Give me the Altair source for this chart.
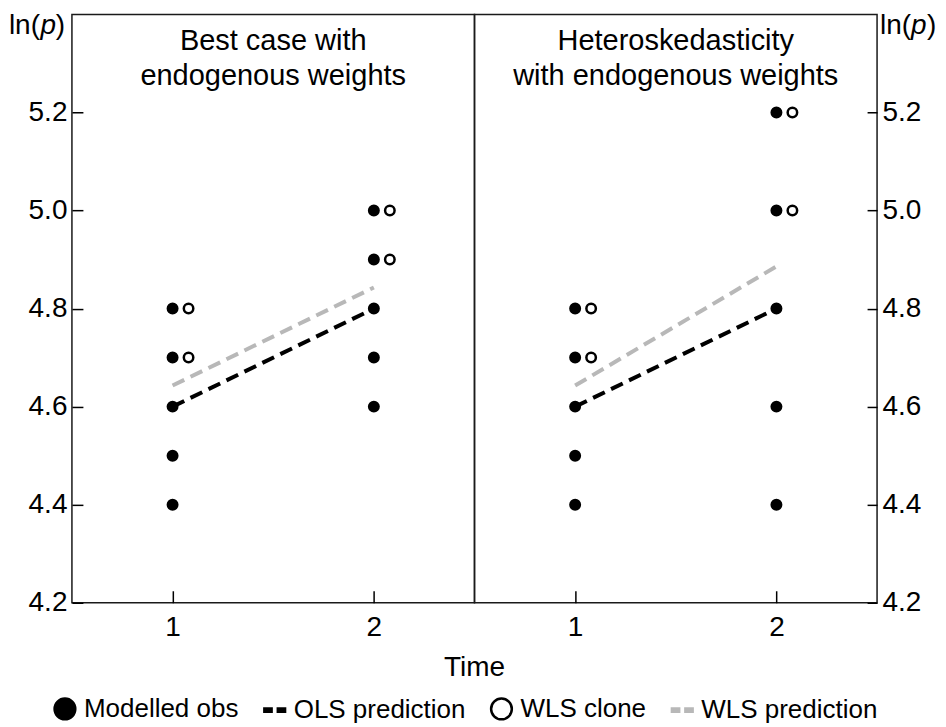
import altair as alt
import pandas as pd

FONT = "Liberation Sans"
GRAY = "#b8b8b8"

series_names = ["Modelled obs", "OLS prediction", "WLS clone", "WLS prediction"]
panel_titles = ["Best case with\nendogenous weights", "Heteroskedasticity\nwith endogenous weights"]
y_label_parts = ["ln(", "p", ")"]
x_title = ["Time"]

time_ticks = [1, 2]
y_ticks = [4.2, 4.4, 4.6, 4.8, 5.0, 5.2]

# Left panel: best case with endogenous weights
left_obs_t1 = [4.4, 4.5, 4.6, 4.7, 4.8]
left_obs_t2 = [4.6, 4.7, 4.8, 4.9, 5.0]
left_clone_t1 = [4.7, 4.8]
left_clone_t2 = [4.9, 5.0]
left_ols = [4.6, 4.8]
left_wls = [4.643, 4.843]

# Right panel: heteroskedasticity with endogenous weights
right_obs_t1 = [4.4, 4.5, 4.6, 4.7, 4.8]
right_obs_t2 = [4.4, 4.6, 4.8, 5.0, 5.2]
right_clone_t1 = [4.7, 4.8]
right_clone_t2 = [5.0, 5.2]
right_ols = [4.6, 4.8]
right_wls = [4.643, 4.886]

W = 403
H = 589

DASH = "M-1,-0.15H-0.3V0.15H-1Z M0.3,-0.15H1V0.15H0.3Z"

shape_scale = alt.Scale(domain=series_names, range=["circle", DASH, "circle", DASH])
fill_scale = alt.Scale(domain=series_names, range=["black", "black", "white", GRAY])
stroke_scale = alt.Scale(domain=series_names, range=["black", "black", "black", GRAY])

legend = alt.Legend(
    title=None, orient="none", legendX=-20, legendY=682, direction="horizontal",
    labelFont=FONT, labelFontSize=26, labelColor="black", symbolSize=430,
    symbolStrokeWidth=2.5, symbolOpacity=1, columnPadding=20, labelOffset=6,
    labelLimit=0,
)

x_scale = alt.Scale(domain=[0.5, 2.5], nice=False, zero=False)
y_scale = alt.Scale(domain=[4.2, 5.4], nice=False, zero=False)

x_axis = alt.Axis(values=time_ticks, format="d", offset=-12, tickSize=12, labelPadding=11,
                  domain=False, grid=False, title=None, labelOverlap=False)


def points_df(t1, t2, name):
    return pd.DataFrame({"time": [1] * len(t1) + [2] * len(t2), "value": t1 + t2, "series": name})


def panel(obs1, obs2, cl1, cl2, ols, wls, title, side):
    if side == "left":
        y_axis = alt.Axis(orient="left", values=y_ticks, format=".1f", offset=-11, tickSize=11,
                          labelPadding=5, domain=False, grid=False, title=None, labelOverlap=False)
    else:
        y_axis = alt.Axis(orient="right", values=y_ticks, format=".1f", offset=-10, tickSize=10,
                          labelPadding=5, domain=False, grid=False, title=None, labelOverlap=False)
    x_enc = alt.X("time:Q", scale=x_scale, axis=x_axis)
    y_enc = alt.Y("value:Q", scale=y_scale, axis=y_axis)

    ols_df = pd.DataFrame({"time": time_ticks, "value": ols})
    wls_df = pd.DataFrame({"time": time_ticks, "value": wls})

    wls_line = alt.Chart(wls_df).mark_line(stroke=GRAY, strokeWidth=4, strokeDash=[13, 7]).encode(x=x_enc, y=y_enc)
    ols_line = alt.Chart(ols_df).mark_line(stroke="black", strokeWidth=4, strokeDash=[13, 7]).encode(x=x_enc, y=y_enc)

    enc = dict(
        x=x_enc, y=y_enc,
        shape=alt.Shape("series:N", scale=shape_scale, legend=legend),
        fill=alt.Fill("series:N", scale=fill_scale, legend=legend),
        stroke=alt.Stroke("series:N", scale=stroke_scale, legend=legend),
    )
    obs = alt.Chart(points_df(obs1, obs2, "Modelled obs")).mark_point(
        size=90, strokeWidth=2.5, opacity=1).encode(**enc)
    clones = alt.Chart(points_df(cl1, cl2, "WLS clone")).mark_point(
        size=90, strokeWidth=2.5, opacity=1, xOffset=16).encode(**enc)

    ttl = alt.Chart(pd.DataFrame({"t": [title]})).mark_text(
        align="center", baseline="alphabetic", font=FONT, fontSize=29, lineBreak="\n",
        lineHeight=35, color="black").encode(text="t:N", x=alt.value(W / 2), y=alt.value(36))

    lab_df = pd.DataFrame({"t": y_label_parts})
    layers = [wls_line, ols_line, obs, clones, ttl]
    if side == "left":
        xs = [-32, -16, -7]
        aligns = ["right", "right", "right"]
    else:
        xs = [W + 3, W + 34, W + 50]
        aligns = ["left", "left", "left"]
    for i, part in enumerate(y_label_parts):
        layers.append(
            alt.Chart(lab_df).transform_filter(alt.datum.t == part).mark_text(
                align=aligns[i], baseline="alphabetic", font=FONT, fontSize=28,
                fontStyle="italic" if part == "p" else "normal", color="black"
            ).encode(text="t:N", x=alt.value(xs[i]), y=alt.value(20))
        )
    if side == "left":
        layers.append(
            alt.Chart(pd.DataFrame({"t": x_title})).mark_text(
                align="center", baseline="alphabetic", font=FONT, fontSize=28, color="black"
            ).encode(text="t:N", x=alt.value(W), y=alt.value(H + 73))
        )
    return alt.layer(*layers).properties(width=W, height=H)


left = panel(left_obs_t1, left_obs_t2, left_clone_t1, left_clone_t2, left_ols, left_wls, panel_titles[0], "left")
right = panel(right_obs_t1, right_obs_t2, right_clone_t1, right_clone_t2, right_ols, right_wls, panel_titles[1], "right")

chart = alt.hconcat(left, right, spacing=0, bounds="flush").properties(
    padding={"left": 0, "top": 3, "right": 0, "bottom": 0}
).configure(font=FONT).configure_view(stroke="#1a1a1a", strokeWidth=1.5).configure_axis(
    labelFont=FONT, labelFontSize=28, labelColor="black", tickColor="black", tickWidth=1.5
)

chart.save("out.html", embed_options={"renderer": "svg", "actions": False})
